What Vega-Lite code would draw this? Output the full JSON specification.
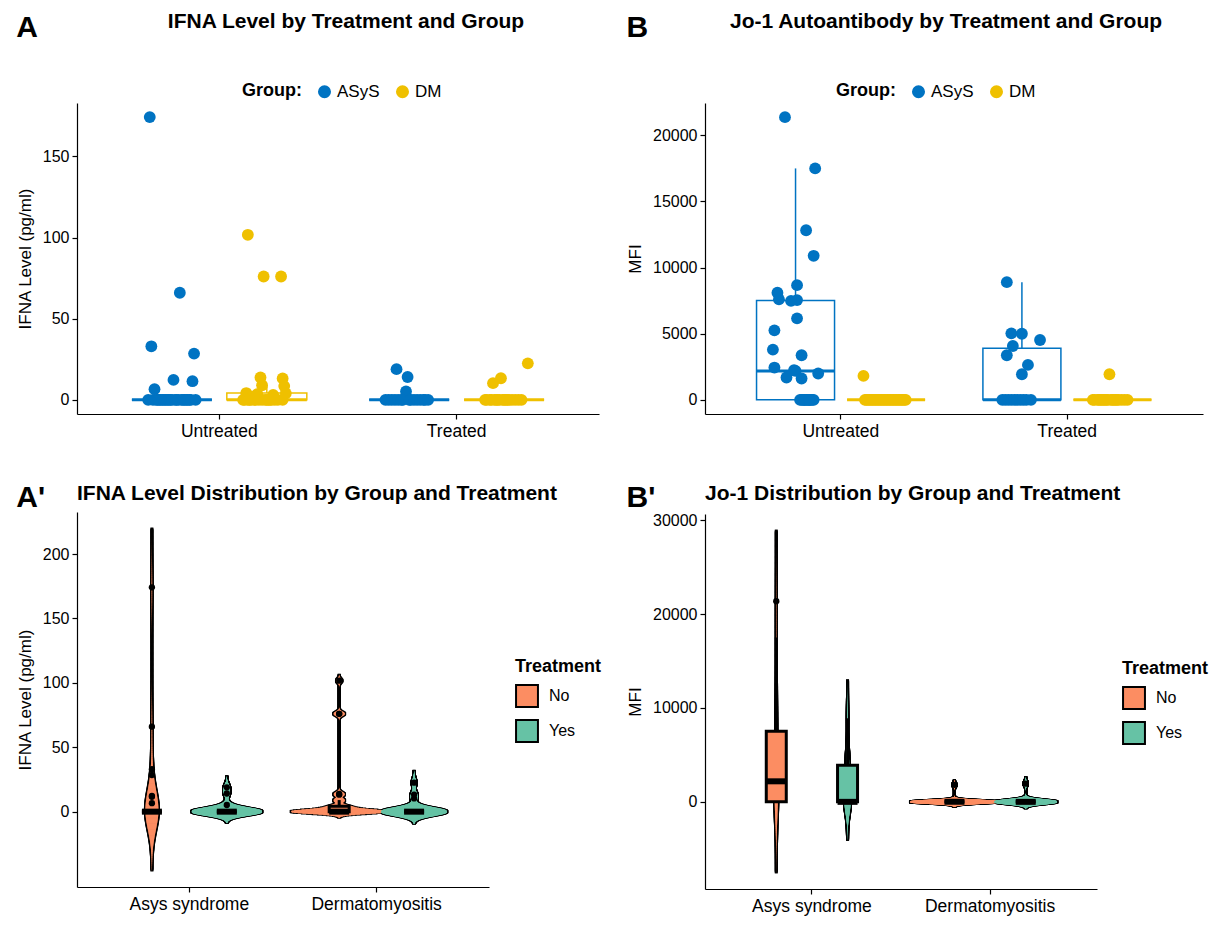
{
  "$schema": "https://vega.github.io/schema/vega-lite/v6.json",
  "background": "white",
  "padding": {"left": 16, "top": 11, "right": 4, "bottom": 4},
  "config": {
    "font": "Liberation Sans",
    "view": {"stroke": null},
    "axis": {"domainColor": "black", "tickColor": "black", "labelColor": "black", "titleColor": "black", "labelFontSize": 16, "titleFontSize": 17, "titleFontWeight": "normal", "grid": false, "tickSize": 5, "domainWidth": 1.2, "tickWidth": 1.2, "labelPadding": 3, "titlePadding": 8},
    "axisX": {"labelFontSize": 17.5},
    "title": {"fontSize": 21, "fontWeight": "bold", "color": "black"},
    "legend": {"labelFontSize": 16, "titleFontSize": 18, "titleFontWeight": "bold", "labelColor": "black", "titleColor": "black"}
  },
  "resolve": {"scale": {"color": "independent", "size": "independent", "xOffset": "independent"}, "legend": {"color": "independent", "size": "independent"}},
  "datasets": {
    "ifna": [
      {"g":"ASyS","t":"Untreated","c":"ASyS|Untreated","r":2,"v":174.2},
      {"g":"ASyS","t":"Untreated","c":"ASyS|Untreated","r":21,"v":66},
      {"g":"ASyS","t":"Untreated","c":"ASyS|Untreated","r":3,"v":33},
      {"g":"ASyS","t":"Untreated","c":"ASyS|Untreated","r":30,"v":28.5},
      {"g":"ASyS","t":"Untreated","c":"ASyS|Untreated","r":17,"v":12.3},
      {"g":"ASyS","t":"Untreated","c":"ASyS|Untreated","r":29,"v":11.5},
      {"g":"ASyS","t":"Untreated","c":"ASyS|Untreated","r":5,"v":6.6},
      {"g":"ASyS","t":"Untreated","c":"ASyS|Untreated","r":1,"v":0},
      {"g":"ASyS","t":"Untreated","c":"ASyS|Untreated","r":4,"v":0},
      {"g":"ASyS","t":"Untreated","c":"ASyS|Untreated","r":6,"v":0},
      {"g":"ASyS","t":"Untreated","c":"ASyS|Untreated","r":7,"v":0},
      {"g":"ASyS","t":"Untreated","c":"ASyS|Untreated","r":8,"v":0},
      {"g":"ASyS","t":"Untreated","c":"ASyS|Untreated","r":9,"v":0},
      {"g":"ASyS","t":"Untreated","c":"ASyS|Untreated","r":10,"v":0},
      {"g":"ASyS","t":"Untreated","c":"ASyS|Untreated","r":11,"v":0},
      {"g":"ASyS","t":"Untreated","c":"ASyS|Untreated","r":12,"v":0},
      {"g":"ASyS","t":"Untreated","c":"ASyS|Untreated","r":13,"v":0},
      {"g":"ASyS","t":"Untreated","c":"ASyS|Untreated","r":14,"v":0},
      {"g":"ASyS","t":"Untreated","c":"ASyS|Untreated","r":15,"v":0},
      {"g":"ASyS","t":"Untreated","c":"ASyS|Untreated","r":16,"v":0},
      {"g":"ASyS","t":"Untreated","c":"ASyS|Untreated","r":18,"v":0},
      {"g":"ASyS","t":"Untreated","c":"ASyS|Untreated","r":19,"v":0},
      {"g":"ASyS","t":"Untreated","c":"ASyS|Untreated","r":20,"v":0},
      {"g":"ASyS","t":"Untreated","c":"ASyS|Untreated","r":22,"v":0},
      {"g":"ASyS","t":"Untreated","c":"ASyS|Untreated","r":23,"v":0},
      {"g":"ASyS","t":"Untreated","c":"ASyS|Untreated","r":24,"v":0},
      {"g":"ASyS","t":"Untreated","c":"ASyS|Untreated","r":25,"v":0},
      {"g":"ASyS","t":"Untreated","c":"ASyS|Untreated","r":26,"v":0},
      {"g":"ASyS","t":"Untreated","c":"ASyS|Untreated","r":27,"v":0},
      {"g":"ASyS","t":"Untreated","c":"ASyS|Untreated","r":28,"v":0},
      {"g":"ASyS","t":"Untreated","c":"ASyS|Untreated","r":31,"v":0},
      {"g":"ASyS","t":"Treated","c":"ASyS|Treated","r":8,"v":18.9},
      {"g":"ASyS","t":"Treated","c":"ASyS|Treated","r":15,"v":14.1},
      {"g":"ASyS","t":"Treated","c":"ASyS|Treated","r":14,"v":5.2},
      {"g":"ASyS","t":"Treated","c":"ASyS|Treated","r":1,"v":0},
      {"g":"ASyS","t":"Treated","c":"ASyS|Treated","r":3,"v":0},
      {"g":"ASyS","t":"Treated","c":"ASyS|Treated","r":5,"v":0},
      {"g":"ASyS","t":"Treated","c":"ASyS|Treated","r":7,"v":0},
      {"g":"ASyS","t":"Treated","c":"ASyS|Treated","r":9,"v":0},
      {"g":"ASyS","t":"Treated","c":"ASyS|Treated","r":11,"v":0},
      {"g":"ASyS","t":"Treated","c":"ASyS|Treated","r":12,"v":0},
      {"g":"ASyS","t":"Treated","c":"ASyS|Treated","r":16,"v":0},
      {"g":"ASyS","t":"Treated","c":"ASyS|Treated","r":17,"v":0},
      {"g":"ASyS","t":"Treated","c":"ASyS|Treated","r":19,"v":0},
      {"g":"ASyS","t":"Treated","c":"ASyS|Treated","r":21,"v":0},
      {"g":"ASyS","t":"Treated","c":"ASyS|Treated","r":23,"v":0},
      {"g":"ASyS","t":"Treated","c":"ASyS|Treated","r":25,"v":0},
      {"g":"ASyS","t":"Treated","c":"ASyS|Treated","r":26,"v":0},
      {"g":"ASyS","t":"Treated","c":"ASyS|Treated","r":28,"v":0},
      {"g":"DM","t":"Untreated","c":"DM|Untreated","r":4,"v":101.7},
      {"g":"DM","t":"Untreated","c":"DM|Untreated","r":14,"v":76},
      {"g":"DM","t":"Untreated","c":"DM|Untreated","r":25,"v":76},
      {"g":"DM","t":"Untreated","c":"DM|Untreated","r":12,"v":13.8},
      {"g":"DM","t":"Untreated","c":"DM|Untreated","r":26,"v":13.2},
      {"g":"DM","t":"Untreated","c":"DM|Untreated","r":13,"v":9.0},
      {"g":"DM","t":"Untreated","c":"DM|Untreated","r":27,"v":8.5},
      {"g":"DM","t":"Untreated","c":"DM|Untreated","r":3,"v":4.2},
      {"g":"DM","t":"Untreated","c":"DM|Untreated","r":28,"v":4.0},
      {"g":"DM","t":"Untreated","c":"DM|Untreated","r":10,"v":3.5},
      {"g":"DM","t":"Untreated","c":"DM|Untreated","r":20,"v":3.0},
      {"g":"DM","t":"Untreated","c":"DM|Untreated","r":7,"v":2.0},
      {"g":"DM","t":"Untreated","c":"DM|Untreated","r":1,"v":0},
      {"g":"DM","t":"Untreated","c":"DM|Untreated","r":2,"v":0},
      {"g":"DM","t":"Untreated","c":"DM|Untreated","r":4,"v":0},
      {"g":"DM","t":"Untreated","c":"DM|Untreated","r":5,"v":0},
      {"g":"DM","t":"Untreated","c":"DM|Untreated","r":6,"v":0},
      {"g":"DM","t":"Untreated","c":"DM|Untreated","r":8,"v":0},
      {"g":"DM","t":"Untreated","c":"DM|Untreated","r":9,"v":0},
      {"g":"DM","t":"Untreated","c":"DM|Untreated","r":11,"v":0},
      {"g":"DM","t":"Untreated","c":"DM|Untreated","r":13,"v":0},
      {"g":"DM","t":"Untreated","c":"DM|Untreated","r":15,"v":0},
      {"g":"DM","t":"Untreated","c":"DM|Untreated","r":16,"v":0},
      {"g":"DM","t":"Untreated","c":"DM|Untreated","r":17,"v":0},
      {"g":"DM","t":"Untreated","c":"DM|Untreated","r":18,"v":0},
      {"g":"DM","t":"Untreated","c":"DM|Untreated","r":19,"v":0},
      {"g":"DM","t":"Untreated","c":"DM|Untreated","r":21,"v":0},
      {"g":"DM","t":"Untreated","c":"DM|Untreated","r":23,"v":0},
      {"g":"DM","t":"Untreated","c":"DM|Untreated","r":26,"v":0},
      {"g":"DM","t":"Treated","c":"DM|Treated","r":31,"v":22.5},
      {"g":"DM","t":"Treated","c":"DM|Treated","r":14,"v":13.3},
      {"g":"DM","t":"Treated","c":"DM|Treated","r":9,"v":10.3},
      {"g":"DM","t":"Treated","c":"DM|Treated","r":4,"v":0},
      {"g":"DM","t":"Treated","c":"DM|Treated","r":5,"v":0},
      {"g":"DM","t":"Treated","c":"DM|Treated","r":7,"v":0},
      {"g":"DM","t":"Treated","c":"DM|Treated","r":8,"v":0},
      {"g":"DM","t":"Treated","c":"DM|Treated","r":10,"v":0},
      {"g":"DM","t":"Treated","c":"DM|Treated","r":11,"v":0},
      {"g":"DM","t":"Treated","c":"DM|Treated","r":12,"v":0},
      {"g":"DM","t":"Treated","c":"DM|Treated","r":13,"v":0},
      {"g":"DM","t":"Treated","c":"DM|Treated","r":15,"v":0},
      {"g":"DM","t":"Treated","c":"DM|Treated","r":16,"v":0},
      {"g":"DM","t":"Treated","c":"DM|Treated","r":17,"v":0},
      {"g":"DM","t":"Treated","c":"DM|Treated","r":18,"v":0},
      {"g":"DM","t":"Treated","c":"DM|Treated","r":19,"v":0},
      {"g":"DM","t":"Treated","c":"DM|Treated","r":21,"v":0},
      {"g":"DM","t":"Treated","c":"DM|Treated","r":23,"v":0},
      {"g":"DM","t":"Treated","c":"DM|Treated","r":25,"v":0},
      {"g":"DM","t":"Treated","c":"DM|Treated","r":27,"v":0}
    ],
    "jo1": [
      {"g":"ASyS","t":"Untreated","c":"ASyS|Untreated","r":9,"v":21373},
      {"g":"ASyS","t":"Untreated","c":"ASyS|Untreated","r":29,"v":17496},
      {"g":"ASyS","t":"Untreated","c":"ASyS|Untreated","r":23,"v":12820},
      {"g":"ASyS","t":"Untreated","c":"ASyS|Untreated","r":28,"v":10890},
      {"g":"ASyS","t":"Untreated","c":"ASyS|Untreated","r":17,"v":8672},
      {"g":"ASyS","t":"Untreated","c":"ASyS|Untreated","r":4,"v":8100},
      {"g":"ASyS","t":"Untreated","c":"ASyS|Untreated","r":5,"v":7600},
      {"g":"ASyS","t":"Untreated","c":"ASyS|Untreated","r":17,"v":7541},
      {"g":"ASyS","t":"Untreated","c":"ASyS|Untreated","r":13,"v":7480},
      {"g":"ASyS","t":"Untreated","c":"ASyS|Untreated","r":17,"v":6161},
      {"g":"ASyS","t":"Untreated","c":"ASyS|Untreated","r":2,"v":5256},
      {"g":"ASyS","t":"Untreated","c":"ASyS|Untreated","r":1,"v":3801},
      {"g":"ASyS","t":"Untreated","c":"ASyS|Untreated","r":20,"v":3371},
      {"g":"ASyS","t":"Untreated","c":"ASyS|Untreated","r":2,"v":2443},
      {"g":"ASyS","t":"Untreated","c":"ASyS|Untreated","r":15,"v":2240},
      {"g":"ASyS","t":"Untreated","c":"ASyS|Untreated","r":16,"v":2187},
      {"g":"ASyS","t":"Untreated","c":"ASyS|Untreated","r":31,"v":1991},
      {"g":"ASyS","t":"Untreated","c":"ASyS|Untreated","r":10,"v":1689},
      {"g":"ASyS","t":"Untreated","c":"ASyS|Untreated","r":20,"v":1614},
      {"g":"ASyS","t":"Untreated","c":"ASyS|Untreated","r":19,"v":0},
      {"g":"ASyS","t":"Untreated","c":"ASyS|Untreated","r":20,"v":0},
      {"g":"ASyS","t":"Untreated","c":"ASyS|Untreated","r":21,"v":0},
      {"g":"ASyS","t":"Untreated","c":"ASyS|Untreated","r":22,"v":0},
      {"g":"ASyS","t":"Untreated","c":"ASyS|Untreated","r":23,"v":0},
      {"g":"ASyS","t":"Untreated","c":"ASyS|Untreated","r":24,"v":0},
      {"g":"ASyS","t":"Untreated","c":"ASyS|Untreated","r":25,"v":0},
      {"g":"ASyS","t":"Untreated","c":"ASyS|Untreated","r":26,"v":0},
      {"g":"ASyS","t":"Untreated","c":"ASyS|Untreated","r":27,"v":0},
      {"g":"ASyS","t":"Untreated","c":"ASyS|Untreated","r":28,"v":0},
      {"g":"ASyS","t":"Untreated","c":"ASyS|Untreated","r":22,"v":0},
      {"g":"ASyS","t":"Untreated","c":"ASyS|Untreated","r":25,"v":0},
      {"g":"ASyS","t":"Treated","c":"ASyS|Treated","r":6,"v":8900},
      {"g":"ASyS","t":"Treated","c":"ASyS|Treated","r":9,"v":5030},
      {"g":"ASyS","t":"Treated","c":"ASyS|Treated","r":16,"v":5000},
      {"g":"ASyS","t":"Treated","c":"ASyS|Treated","r":28,"v":4525},
      {"g":"ASyS","t":"Treated","c":"ASyS|Treated","r":10,"v":4073},
      {"g":"ASyS","t":"Treated","c":"ASyS|Treated","r":6,"v":3371},
      {"g":"ASyS","t":"Treated","c":"ASyS|Treated","r":20,"v":2640},
      {"g":"ASyS","t":"Treated","c":"ASyS|Treated","r":16,"v":1938},
      {"g":"ASyS","t":"Treated","c":"ASyS|Treated","r":3,"v":0},
      {"g":"ASyS","t":"Treated","c":"ASyS|Treated","r":5,"v":0},
      {"g":"ASyS","t":"Treated","c":"ASyS|Treated","r":7,"v":0},
      {"g":"ASyS","t":"Treated","c":"ASyS|Treated","r":9,"v":0},
      {"g":"ASyS","t":"Treated","c":"ASyS|Treated","r":11,"v":0},
      {"g":"ASyS","t":"Treated","c":"ASyS|Treated","r":13,"v":0},
      {"g":"ASyS","t":"Treated","c":"ASyS|Treated","r":15,"v":0},
      {"g":"ASyS","t":"Treated","c":"ASyS|Treated","r":17,"v":0},
      {"g":"ASyS","t":"Treated","c":"ASyS|Treated","r":19,"v":0},
      {"g":"ASyS","t":"Treated","c":"ASyS|Treated","r":22,"v":0},
      {"g":"DM","t":"Untreated","c":"DM|Untreated","r":1,"v":1810},
      {"g":"DM","t":"Untreated","c":"DM|Untreated","r":2,"v":0},
      {"g":"DM","t":"Untreated","c":"DM|Untreated","r":3,"v":0},
      {"g":"DM","t":"Untreated","c":"DM|Untreated","r":4,"v":0},
      {"g":"DM","t":"Untreated","c":"DM|Untreated","r":5,"v":0},
      {"g":"DM","t":"Untreated","c":"DM|Untreated","r":6,"v":0},
      {"g":"DM","t":"Untreated","c":"DM|Untreated","r":7,"v":0},
      {"g":"DM","t":"Untreated","c":"DM|Untreated","r":8,"v":0},
      {"g":"DM","t":"Untreated","c":"DM|Untreated","r":9,"v":0},
      {"g":"DM","t":"Untreated","c":"DM|Untreated","r":10,"v":0},
      {"g":"DM","t":"Untreated","c":"DM|Untreated","r":11,"v":0},
      {"g":"DM","t":"Untreated","c":"DM|Untreated","r":12,"v":0},
      {"g":"DM","t":"Untreated","c":"DM|Untreated","r":13,"v":0},
      {"g":"DM","t":"Untreated","c":"DM|Untreated","r":14,"v":0},
      {"g":"DM","t":"Untreated","c":"DM|Untreated","r":15,"v":0},
      {"g":"DM","t":"Untreated","c":"DM|Untreated","r":16,"v":0},
      {"g":"DM","t":"Untreated","c":"DM|Untreated","r":17,"v":0},
      {"g":"DM","t":"Untreated","c":"DM|Untreated","r":18,"v":0},
      {"g":"DM","t":"Untreated","c":"DM|Untreated","r":19,"v":0},
      {"g":"DM","t":"Untreated","c":"DM|Untreated","r":20,"v":0},
      {"g":"DM","t":"Untreated","c":"DM|Untreated","r":21,"v":0},
      {"g":"DM","t":"Untreated","c":"DM|Untreated","r":22,"v":0},
      {"g":"DM","t":"Untreated","c":"DM|Untreated","r":23,"v":0},
      {"g":"DM","t":"Untreated","c":"DM|Untreated","r":24,"v":0},
      {"g":"DM","t":"Untreated","c":"DM|Untreated","r":25,"v":0},
      {"g":"DM","t":"Untreated","c":"DM|Untreated","r":26,"v":0},
      {"g":"DM","t":"Untreated","c":"DM|Untreated","r":27,"v":0},
      {"g":"DM","t":"Untreated","c":"DM|Untreated","r":28,"v":0},
      {"g":"DM","t":"Untreated","c":"DM|Untreated","r":29,"v":0},
      {"g":"DM","t":"Treated","c":"DM|Treated","r":14,"v":1938},
      {"g":"DM","t":"Treated","c":"DM|Treated","r":3,"v":0},
      {"g":"DM","t":"Treated","c":"DM|Treated","r":4,"v":0},
      {"g":"DM","t":"Treated","c":"DM|Treated","r":6,"v":0},
      {"g":"DM","t":"Treated","c":"DM|Treated","r":7,"v":0},
      {"g":"DM","t":"Treated","c":"DM|Treated","r":8,"v":0},
      {"g":"DM","t":"Treated","c":"DM|Treated","r":9,"v":0},
      {"g":"DM","t":"Treated","c":"DM|Treated","r":10,"v":0},
      {"g":"DM","t":"Treated","c":"DM|Treated","r":11,"v":0},
      {"g":"DM","t":"Treated","c":"DM|Treated","r":12,"v":0},
      {"g":"DM","t":"Treated","c":"DM|Treated","r":13,"v":0},
      {"g":"DM","t":"Treated","c":"DM|Treated","r":15,"v":0},
      {"g":"DM","t":"Treated","c":"DM|Treated","r":16,"v":0},
      {"g":"DM","t":"Treated","c":"DM|Treated","r":17,"v":0},
      {"g":"DM","t":"Treated","c":"DM|Treated","r":18,"v":0},
      {"g":"DM","t":"Treated","c":"DM|Treated","r":19,"v":0},
      {"g":"DM","t":"Treated","c":"DM|Treated","r":20,"v":0},
      {"g":"DM","t":"Treated","c":"DM|Treated","r":22,"v":0},
      {"g":"DM","t":"Treated","c":"DM|Treated","r":24,"v":0},
      {"g":"DM","t":"Treated","c":"DM|Treated","r":26,"v":0}
    ]
  },
  "spacing": 24,
  "hconcat": [
    {
      "spacing": 43,
      "resolve": {"scale": {"color": "independent", "size": "independent", "xOffset": "independent"}, "legend": {"color": "independent", "size": "independent"}},
      "vconcat": [
        {
          "title": {"text": "A", "anchor": "start", "frame": "bounds", "fontSize": 30, "offset": 0, "dy": 32},
          "resolve": {"scale": {"color": "independent", "size": "independent", "xOffset": "independent"}, "legend": {"color": "independent", "size": "independent"}},
          "vconcat": [
            {
              "width": 522, "height": 311,
              "title": {"text": "IFNA Level by Treatment and Group", "anchor": "middle", "offset": 51, "dx": 8},
              "data": {"name": "ifna"},
              "encoding": {
                "x": {"field": "c", "type": "nominal", "title": null,
                  "scale": {"type": "band", "domain": ["p0","ASyS|Untreated","Untreated","DM|Untreated","g1","g2","ASyS|Treated","Treated","DM|Treated","p9"], "paddingInner": 0, "paddingOuter": 0.5},
                  "axis": {"values": ["Untreated","Treated"], "labelAngle": 0, "bandPosition": 0.5}},
                "y": {"field": "v", "type": "quantitative", "title": "IFNA Level (pg/ml)",
                  "scale": {"domain": [-8.71, 182.9], "nice": false, "zero": false},
                  "axis": {"values": [0, 50, 100, 150]}}
              },
              "layer": [
                {"transform": [{"filter": "datum.g === 'ASyS'"}],
                 "mark": {"type": "boxplot", "size": 80, "extent": 1.5, "color": "#0073C2", "opacity": 1, "outliers": false,
                   "box": {"fill": "transparent", "stroke": "#0073C2", "strokeWidth": 1.5, "opacity": 1},
                   "median": {"color": "#0073C2", "fill": "#0073C2", "thickness": 3, "opacity": 1},
                   "rule": {"color": "#0073C2", "strokeWidth": 1.5, "opacity": 1}}},
                {"transform": [{"filter": "datum.g === 'DM'"}],
                 "mark": {"type": "boxplot", "size": 80, "extent": 1.5, "color": "#EFC000", "opacity": 1, "outliers": false,
                   "box": {"fill": "transparent", "stroke": "#EFC000", "strokeWidth": 1.5, "opacity": 1},
                   "median": {"color": "#EFC000", "fill": "#EFC000", "thickness": 3, "opacity": 1},
                   "rule": {"color": "#EFC000", "strokeWidth": 1.5, "opacity": 1}}},
                {"mark": {"type": "circle", "size": 140, "opacity": 1},
                 "encoding": {
                   "xOffset": {"field": "r", "type": "ordinal", "scale": {"domain": [1,2,3,4,5,6,7,8,9,10,11,12,13,14,15,16,17,18,19,20,21,22,23,24,25,26,27,28,29,30,31], "paddingInner": 0, "paddingOuter": 0}},
                   "color": {"field": "g", "type": "nominal", "scale": {"domain": ["ASyS","DM"], "range": ["#0073C2","#EFC000"]},
                     "legend": {"title": "Group:", "orient": "none", "legendX": 165, "legendY": -20, "direction": "horizontal", "titleOrient": "left", "symbolType": "circle", "symbolSize": 170, "columnPadding": 14, "titlePadding": 14, "labelFontSize": 17, "titleFontSize": 18}}
                 }}
              ]
            }
          ]
        },
        {
          "title": {"text": "A'", "anchor": "start", "frame": "bounds", "fontSize": 30, "offset": 0, "dy": 30},
          "resolve": {"scale": {"color": "independent", "size": "independent", "xOffset": "independent"}, "legend": {"color": "independent", "size": "independent"}},
          "vconcat": [
            {
              "width": 412, "height": 375,
              "title": {"text": "IFNA Level Distribution by Group and Treatment", "anchor": "start", "frame": "group", "offset": 8},
              "data": {"name": "ifna"},
              "encoding": {
                "x": {"field": "c", "type": "nominal", "title": null,
                  "scale": {"type": "band", "domain": ["p0","ASyS|Untreated","Asys syndrome","ASyS|Treated","g1","g2","DM|Untreated","Dermatomyositis","DM|Treated","p9"], "paddingInner": 0, "paddingOuter": 0.5},
                  "axis": {"values": ["Asys syndrome","Dermatomyositis"], "labelAngle": 0, "bandPosition": 0.5}},
                "y": {"field": "v", "type": "quantitative", "title": "IFNA Level (pg/ml)",
                  "scale": {"domain": [-58.5, 232.7], "nice": false, "zero": false},
                  "axis": {"values": [0, 50, 100, 150, 200]}}
              },
              "layer": [
                {"transform": [{"filter": "datum.c === 'ASyS|Untreated'"}, {"density": "v", "groupby": ["c","t"], "bandwidth": 15.1, "extent": [-45.3, 219.5], "steps": 400, "as": ["v","density"]}],
                 "mark": {"type": "tick", "color": "black", "thickness": 3, "opacity": 1},
                 "encoding": {"size": {"field": "density", "type": "quantitative", "scale": {"domain": [0, 0.1683], "range": [3, 99]}, "legend": null}}},
                {"transform": [{"filter": "datum.c === 'ASyS|Treated'"}, {"density": "v", "groupby": ["c","t"], "bandwidth": 2.743, "extent": [-8.23, 27.13], "steps": 400, "as": ["v","density"]}],
                 "mark": {"type": "tick", "color": "black", "thickness": 3, "opacity": 1},
                 "encoding": {"size": {"field": "density", "type": "quantitative", "scale": {"domain": [0, 0.1683], "range": [3, 99]}, "legend": null}}},
                {"transform": [{"filter": "datum.c === 'DM|Untreated'"}, {"density": "v", "groupby": ["c","t"], "bandwidth": 1.438, "extent": [-4.31, 106.0], "steps": 400, "as": ["v","density"]}],
                 "mark": {"type": "tick", "color": "black", "thickness": 3, "opacity": 1},
                 "encoding": {"size": {"field": "density", "type": "quantitative", "scale": {"domain": [0, 0.1683], "range": [3, 99]}, "legend": null}}},
                {"transform": [{"filter": "datum.c === 'DM|Treated'"}, {"density": "v", "groupby": ["c","t"], "bandwidth": 2.963, "extent": [-8.89, 31.39], "steps": 400, "as": ["v","density"]}],
                 "mark": {"type": "tick", "color": "black", "thickness": 3, "opacity": 1},
                 "encoding": {"size": {"field": "density", "type": "quantitative", "scale": {"domain": [0, 0.1683], "range": [3, 99]}, "legend": null}}},
                {"transform": [{"filter": "datum.c === 'ASyS|Untreated'"}, {"density": "v", "groupby": ["c","t"], "bandwidth": 15.1, "extent": [-45.3, 219.5], "steps": 400, "as": ["v","density"]}],
                 "mark": {"type": "tick", "thickness": 1.6, "opacity": 1},
                 "encoding": {"size": {"field": "density", "type": "quantitative", "scale": {"domain": [0, 0.1683], "range": [0, 96]}, "legend": null},
                   "color": {"field": "t", "type": "nominal", "scale": {"domain": ["Untreated","Treated"], "range": ["#FC8D62","#66C2A5"]}, "legend": {"title": "Treatment", "orient": "none", "legendX": 438, "legendY": 146, "symbolType": "square", "symbolSize": 480, "symbolStrokeColor": "black", "symbolStrokeWidth": 2, "symbolOpacity": 1, "labelExpr": "datum.label === 'Untreated' ? 'No' : 'Yes'", "rowPadding": 5, "titlePadding": 8, "labelOffset": 10}}}},
                {"transform": [{"filter": "datum.c === 'ASyS|Treated'"}, {"density": "v", "groupby": ["c","t"], "bandwidth": 2.743, "extent": [-8.23, 27.13], "steps": 400, "as": ["v","density"]}],
                 "mark": {"type": "tick", "thickness": 1.6, "opacity": 1},
                 "encoding": {"size": {"field": "density", "type": "quantitative", "scale": {"domain": [0, 0.1683], "range": [0, 96]}, "legend": null},
                   "color": {"field": "t", "type": "nominal", "scale": {"domain": ["Untreated","Treated"], "range": ["#FC8D62","#66C2A5"]}, "legend": {"title": "Treatment", "orient": "none", "legendX": 438, "legendY": 146, "symbolType": "square", "symbolSize": 480, "symbolStrokeColor": "black", "symbolStrokeWidth": 2, "symbolOpacity": 1, "labelExpr": "datum.label === 'Untreated' ? 'No' : 'Yes'", "rowPadding": 5, "titlePadding": 8, "labelOffset": 10}}}},
                {"transform": [{"filter": "datum.c === 'DM|Untreated'"}, {"density": "v", "groupby": ["c","t"], "bandwidth": 1.438, "extent": [-4.31, 106.0], "steps": 400, "as": ["v","density"]}],
                 "mark": {"type": "tick", "thickness": 1.6, "opacity": 1},
                 "encoding": {"size": {"field": "density", "type": "quantitative", "scale": {"domain": [0, 0.1683], "range": [0, 96]}, "legend": null},
                   "color": {"field": "t", "type": "nominal", "scale": {"domain": ["Untreated","Treated"], "range": ["#FC8D62","#66C2A5"]}, "legend": {"title": "Treatment", "orient": "none", "legendX": 438, "legendY": 146, "symbolType": "square", "symbolSize": 480, "symbolStrokeColor": "black", "symbolStrokeWidth": 2, "symbolOpacity": 1, "labelExpr": "datum.label === 'Untreated' ? 'No' : 'Yes'", "rowPadding": 5, "titlePadding": 8, "labelOffset": 10}}}},
                {"transform": [{"filter": "datum.c === 'DM|Treated'"}, {"density": "v", "groupby": ["c","t"], "bandwidth": 2.963, "extent": [-8.89, 31.39], "steps": 400, "as": ["v","density"]}],
                 "mark": {"type": "tick", "thickness": 1.6, "opacity": 1},
                 "encoding": {"size": {"field": "density", "type": "quantitative", "scale": {"domain": [0, 0.1683], "range": [0, 96]}, "legend": null},
                   "color": {"field": "t", "type": "nominal", "scale": {"domain": ["Untreated","Treated"], "range": ["#FC8D62","#66C2A5"]}, "legend": {"title": "Treatment", "orient": "none", "legendX": 438, "legendY": 146, "symbolType": "square", "symbolSize": 480, "symbolStrokeColor": "black", "symbolStrokeWidth": 2, "symbolOpacity": 1, "labelExpr": "datum.label === 'Untreated' ? 'No' : 'Yes'", "rowPadding": 5, "titlePadding": 8, "labelOffset": 10}}}},
                {"transform": [{"filter": "datum.t === 'Untreated'"}],
                 "mark": {"type": "boxplot", "size": 20, "extent": 1.5, "color": "black", "opacity": 1,
                   "box": {"fill": "#FC8D62", "stroke": "black", "strokeWidth": 3, "opacity": 1},
                   "median": {"color": "black", "fill": "black", "thickness": 6, "opacity": 1},
                   "rule": {"color": "black", "strokeWidth": 3, "opacity": 1},
                   "outliers": {"color": "black", "filled": true, "size": 40, "opacity": 1}}},
                {"transform": [{"filter": "datum.t === 'Treated'"}],
                 "mark": {"type": "boxplot", "size": 20, "extent": 1.5, "color": "black", "opacity": 1,
                   "box": {"fill": "#66C2A5", "stroke": "black", "strokeWidth": 3, "opacity": 1},
                   "median": {"color": "black", "fill": "black", "thickness": 6, "opacity": 1},
                   "rule": {"color": "black", "strokeWidth": 3, "opacity": 1},
                   "outliers": {"color": "black", "filled": true, "size": 40, "opacity": 1}}}
              ],
              "resolve": {"scale": {"size": "independent"}}
            }
          ]
        }
      ]
    },
    {
      "spacing": 43,
      "resolve": {"scale": {"color": "independent", "size": "independent", "xOffset": "independent"}, "legend": {"color": "independent", "size": "independent"}},
      "vconcat": [
        {
          "title": {"text": "B", "anchor": "start", "frame": "bounds", "fontSize": 30, "offset": 0, "dy": 32},
          "resolve": {"scale": {"color": "independent", "size": "independent", "xOffset": "independent"}, "legend": {"color": "independent", "size": "independent"}},
          "vconcat": [
            {
              "width": 498, "height": 311,
              "title": {"text": "Jo-1 Autoantibody by Treatment and Group", "anchor": "middle", "offset": 51, "dx": -8},
              "data": {"name": "jo1"},
              "encoding": {
                "x": {"field": "c", "type": "nominal", "title": null,
                  "scale": {"type": "band", "domain": ["p0","ASyS|Untreated","Untreated","DM|Untreated","g1","g2","ASyS|Treated","Treated","DM|Treated","p9"], "paddingInner": 0, "paddingOuter": 0.5},
                  "axis": {"values": ["Untreated","Treated"], "labelAngle": 0, "bandPosition": 0.5}},
                "y": {"field": "v", "type": "quantitative", "title": "MFI",
                  "scale": {"domain": [-1068.7, 22441.7], "nice": false, "zero": false},
                  "axis": {"values": [0, 5000, 10000, 15000, 20000], "format": "d"}}
              },
              "layer": [
                {"transform": [{"filter": "datum.g === 'ASyS'"}],
                 "mark": {"type": "boxplot", "size": 78, "extent": 1.5, "color": "#0073C2", "opacity": 1, "outliers": false,
                   "box": {"fill": "transparent", "stroke": "#0073C2", "strokeWidth": 1.5, "opacity": 1},
                   "median": {"color": "#0073C2", "fill": "#0073C2", "thickness": 3, "opacity": 1},
                   "rule": {"color": "#0073C2", "strokeWidth": 1.5, "opacity": 1}}},
                {"transform": [{"filter": "datum.g === 'DM'"}],
                 "mark": {"type": "boxplot", "size": 78, "extent": 1.5, "color": "#EFC000", "opacity": 1, "outliers": false,
                   "box": {"fill": "transparent", "stroke": "#EFC000", "strokeWidth": 1.5, "opacity": 1},
                   "median": {"color": "#EFC000", "fill": "#EFC000", "thickness": 3, "opacity": 1},
                   "rule": {"color": "#EFC000", "strokeWidth": 1.5, "opacity": 1}}},
                {"mark": {"type": "circle", "size": 140, "opacity": 1},
                 "encoding": {
                   "xOffset": {"field": "r", "type": "ordinal", "scale": {"domain": [1,2,3,4,5,6,7,8,9,10,11,12,13,14,15,16,17,18,19,20,21,22,23,24,25,26,27,28,29,30,31], "paddingInner": 0, "paddingOuter": 0}},
                   "color": {"field": "g", "type": "nominal", "scale": {"domain": ["ASyS","DM"], "range": ["#0073C2","#EFC000"]},
                     "legend": {"title": "Group:", "orient": "none", "legendX": 131, "legendY": -20, "direction": "horizontal", "titleOrient": "left", "symbolType": "circle", "symbolSize": 170, "columnPadding": 14, "titlePadding": 14, "labelFontSize": 17, "titleFontSize": 18}}
                 }}
              ]
            }
          ]
        },
        {
          "title": {"text": "B'", "anchor": "start", "frame": "bounds", "fontSize": 30, "offset": 0, "dy": 30},
          "resolve": {"scale": {"color": "independent", "size": "independent", "xOffset": "independent"}, "legend": {"color": "independent", "size": "independent"}},
          "vconcat": [
            {
              "width": 392, "height": 375,
              "title": {"text": "Jo-1 Distribution by Group and Treatment", "anchor": "start", "frame": "group", "offset": 8},
              "data": {"name": "jo1"},
              "encoding": {
                "x": {"field": "c", "type": "nominal", "title": null,
                  "scale": {"type": "band", "domain": ["p0","ASyS|Untreated","Asys syndrome","ASyS|Treated","g1","g2","DM|Untreated","Dermatomyositis","DM|Treated","p9"], "paddingInner": 0, "paddingOuter": 0.5},
                  "axis": {"values": ["Asys syndrome","Dermatomyositis"], "labelAngle": 0, "bandPosition": 0.5}},
                "y": {"field": "v", "type": "quantitative", "title": "MFI",
                  "scale": {"domain": [-9280, 30652], "nice": false, "zero": false},
                  "axis": {"values": [0, 10000, 20000, 30000], "format": "d"}}
              },
              "layer": [
                {"transform": [{"filter": "datum.c === 'ASyS|Untreated'"}, {"density": "v", "groupby": ["c","t"], "bandwidth": 2488, "extent": [-7465, 28837], "steps": 400, "as": ["v","density"]}],
                 "mark": {"type": "tick", "color": "black", "thickness": 3, "opacity": 1},
                 "encoding": {"size": {"field": "density", "type": "quantitative", "scale": {"domain": [0, 0.002501], "range": [3, 91]}, "legend": null}}},
                {"transform": [{"filter": "datum.c === 'ASyS|Treated'"}, {"density": "v", "groupby": ["c","t"], "bandwidth": 1334, "extent": [-4002, 12902], "steps": 400, "as": ["v","density"]}],
                 "mark": {"type": "tick", "color": "black", "thickness": 3, "opacity": 1},
                 "encoding": {"size": {"field": "density", "type": "quantitative", "scale": {"domain": [0, 0.002501], "range": [3, 91]}, "legend": null}}},
                {"transform": [{"filter": "datum.c === 'DM|Untreated'"}, {"density": "v", "groupby": ["c","t"], "bandwidth": 154, "extent": [-462, 2272], "steps": 400, "as": ["v","density"]}],
                 "mark": {"type": "tick", "color": "black", "thickness": 3, "opacity": 1},
                 "encoding": {"size": {"field": "density", "type": "quantitative", "scale": {"domain": [0, 0.002501], "range": [3, 91]}, "legend": null}}},
                {"transform": [{"filter": "datum.c === 'DM|Treated'"}, {"density": "v", "groupby": ["c","t"], "bandwidth": 214.2, "extent": [-643, 2581], "steps": 400, "as": ["v","density"]}],
                 "mark": {"type": "tick", "color": "black", "thickness": 3, "opacity": 1},
                 "encoding": {"size": {"field": "density", "type": "quantitative", "scale": {"domain": [0, 0.002501], "range": [3, 91]}, "legend": null}}},
                {"transform": [{"filter": "datum.c === 'ASyS|Untreated'"}, {"density": "v", "groupby": ["c","t"], "bandwidth": 2488, "extent": [-7465, 28837], "steps": 400, "as": ["v","density"]}],
                 "mark": {"type": "tick", "thickness": 1.6, "opacity": 1},
                 "encoding": {"size": {"field": "density", "type": "quantitative", "scale": {"domain": [0, 0.002501], "range": [0, 88]}, "legend": null},
                   "color": {"field": "t", "type": "nominal", "scale": {"domain": ["Untreated","Treated"], "range": ["#FC8D62","#66C2A5"]}, "legend": {"title": "Treatment", "orient": "none", "legendX": 417, "legendY": 146, "symbolType": "square", "symbolSize": 480, "symbolStrokeColor": "black", "symbolStrokeWidth": 2, "symbolOpacity": 1, "labelExpr": "datum.label === 'Untreated' ? 'No' : 'Yes'", "rowPadding": 5, "titlePadding": 8, "labelOffset": 10}}}},
                {"transform": [{"filter": "datum.c === 'ASyS|Treated'"}, {"density": "v", "groupby": ["c","t"], "bandwidth": 1334, "extent": [-4002, 12902], "steps": 400, "as": ["v","density"]}],
                 "mark": {"type": "tick", "thickness": 1.6, "opacity": 1},
                 "encoding": {"size": {"field": "density", "type": "quantitative", "scale": {"domain": [0, 0.002501], "range": [0, 88]}, "legend": null},
                   "color": {"field": "t", "type": "nominal", "scale": {"domain": ["Untreated","Treated"], "range": ["#FC8D62","#66C2A5"]}, "legend": {"title": "Treatment", "orient": "none", "legendX": 417, "legendY": 146, "symbolType": "square", "symbolSize": 480, "symbolStrokeColor": "black", "symbolStrokeWidth": 2, "symbolOpacity": 1, "labelExpr": "datum.label === 'Untreated' ? 'No' : 'Yes'", "rowPadding": 5, "titlePadding": 8, "labelOffset": 10}}}},
                {"transform": [{"filter": "datum.c === 'DM|Untreated'"}, {"density": "v", "groupby": ["c","t"], "bandwidth": 154, "extent": [-462, 2272], "steps": 400, "as": ["v","density"]}],
                 "mark": {"type": "tick", "thickness": 1.6, "opacity": 1},
                 "encoding": {"size": {"field": "density", "type": "quantitative", "scale": {"domain": [0, 0.002501], "range": [0, 88]}, "legend": null},
                   "color": {"field": "t", "type": "nominal", "scale": {"domain": ["Untreated","Treated"], "range": ["#FC8D62","#66C2A5"]}, "legend": {"title": "Treatment", "orient": "none", "legendX": 417, "legendY": 146, "symbolType": "square", "symbolSize": 480, "symbolStrokeColor": "black", "symbolStrokeWidth": 2, "symbolOpacity": 1, "labelExpr": "datum.label === 'Untreated' ? 'No' : 'Yes'", "rowPadding": 5, "titlePadding": 8, "labelOffset": 10}}}},
                {"transform": [{"filter": "datum.c === 'DM|Treated'"}, {"density": "v", "groupby": ["c","t"], "bandwidth": 214.2, "extent": [-643, 2581], "steps": 400, "as": ["v","density"]}],
                 "mark": {"type": "tick", "thickness": 1.6, "opacity": 1},
                 "encoding": {"size": {"field": "density", "type": "quantitative", "scale": {"domain": [0, 0.002501], "range": [0, 88]}, "legend": null},
                   "color": {"field": "t", "type": "nominal", "scale": {"domain": ["Untreated","Treated"], "range": ["#FC8D62","#66C2A5"]}, "legend": {"title": "Treatment", "orient": "none", "legendX": 417, "legendY": 146, "symbolType": "square", "symbolSize": 480, "symbolStrokeColor": "black", "symbolStrokeWidth": 2, "symbolOpacity": 1, "labelExpr": "datum.label === 'Untreated' ? 'No' : 'Yes'", "rowPadding": 5, "titlePadding": 8, "labelOffset": 10}}}},
                {"transform": [{"filter": "datum.t === 'Untreated'"}],
                 "mark": {"type": "boxplot", "size": 20, "extent": 1.5, "color": "black", "opacity": 1,
                   "box": {"fill": "#FC8D62", "stroke": "black", "strokeWidth": 3, "opacity": 1},
                   "median": {"color": "black", "fill": "black", "thickness": 6, "opacity": 1},
                   "rule": {"color": "black", "strokeWidth": 3, "opacity": 1},
                   "outliers": {"color": "black", "filled": true, "size": 40, "opacity": 1}}},
                {"transform": [{"filter": "datum.t === 'Treated'"}],
                 "mark": {"type": "boxplot", "size": 20, "extent": 1.5, "color": "black", "opacity": 1,
                   "box": {"fill": "#66C2A5", "stroke": "black", "strokeWidth": 3, "opacity": 1},
                   "median": {"color": "black", "fill": "black", "thickness": 6, "opacity": 1},
                   "rule": {"color": "black", "strokeWidth": 3, "opacity": 1},
                   "outliers": {"color": "black", "filled": true, "size": 40, "opacity": 1}}}
              ],
              "resolve": {"scale": {"size": "independent"}}
            }
          ]
        }
      ]
    }
  ]
}
